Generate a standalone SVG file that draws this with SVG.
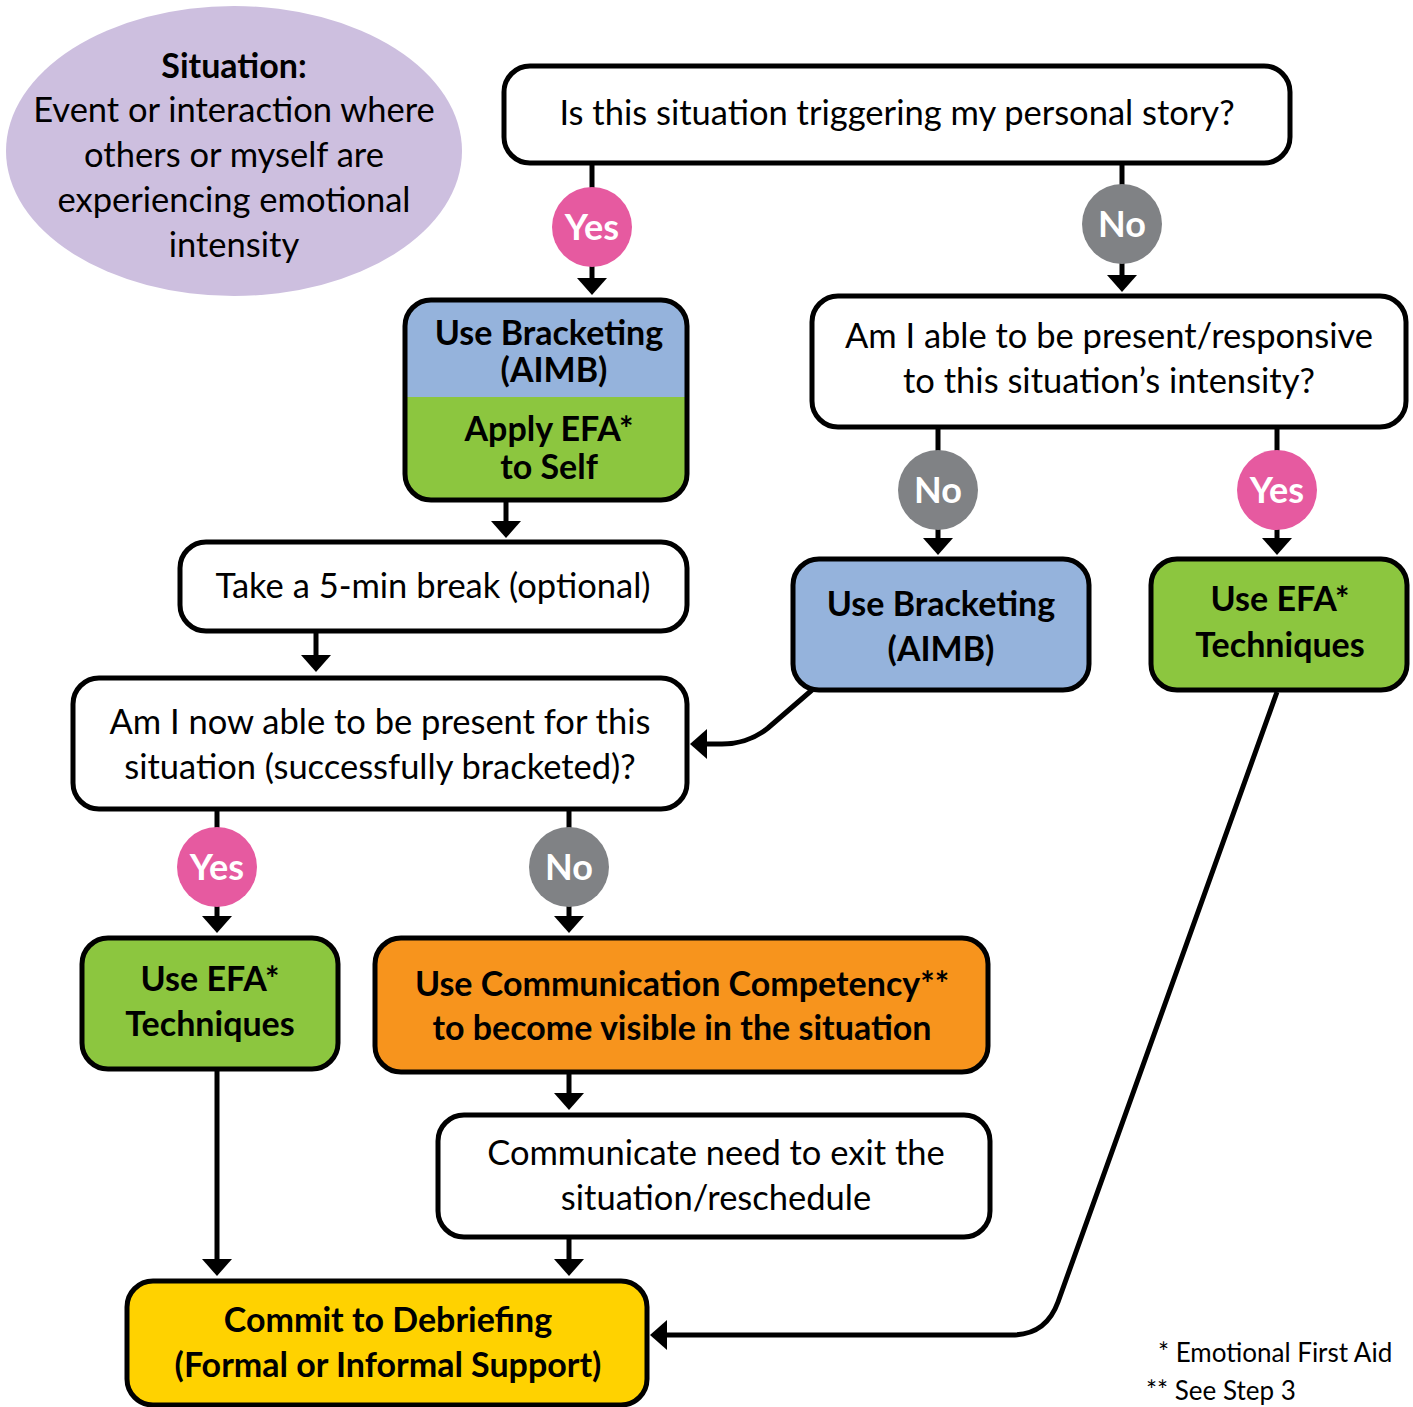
<svg xmlns="http://www.w3.org/2000/svg" width="1413" height="1407" viewBox="0 0 1413 1407">
<defs>
<style>
.box{stroke:#000;stroke-width:5}
.t{font-family:Lato,"Open Sans","Liberation Sans",sans-serif;font-size:34.5px;fill:#000;text-anchor:middle}
.b{font-weight:bold;font-size:34px}
.c{font-family:Lato,"Open Sans","Liberation Sans",sans-serif;font-size:36px;font-weight:bold;fill:#fff;text-anchor:middle}
.ln{stroke:#000;stroke-width:5;fill:none}
.yes{fill:#e65aa0}
.no{fill:#808285}
.fn{font-family:Lato,"Open Sans","Liberation Sans",sans-serif;font-size:26px;fill:#000}
</style>
<marker id="ah" markerUnits="userSpaceOnUse" viewBox="0 0 17 30" markerWidth="17" markerHeight="30" refX="7" refY="15" orient="auto">
<path d="M0,0 L17,15 L0,30 z" fill="#000"/>
</marker>
</defs>
<rect width="1413" height="1407" fill="#fff"/>

<g id="connectors">
<line class="ln" x1="592" y1="163" x2="592" y2="285" marker-end="url(#ah)"/>
<line class="ln" x1="1122" y1="163" x2="1122" y2="282" marker-end="url(#ah)"/>
<line class="ln" x1="506" y1="500" x2="506" y2="528" marker-end="url(#ah)"/>
<line class="ln" x1="316" y1="631" x2="316" y2="662" marker-end="url(#ah)"/>
<line class="ln" x1="938" y1="427" x2="938" y2="545" marker-end="url(#ah)"/>
<line class="ln" x1="1277" y1="427" x2="1277" y2="545" marker-end="url(#ah)"/>
<path class="ln" d="M812,690 L768,728 Q748,744 722,744 L700,744" marker-end="url(#ah)"/>
<line class="ln" x1="217" y1="809" x2="217" y2="923" marker-end="url(#ah)"/>
<line class="ln" x1="569" y1="809" x2="569" y2="923" marker-end="url(#ah)"/>
<line class="ln" x1="569" y1="1072" x2="569" y2="1100" marker-end="url(#ah)"/>
<line class="ln" x1="217" y1="1069" x2="217" y2="1266" marker-end="url(#ah)"/>
<line class="ln" x1="569" y1="1237" x2="569" y2="1266" marker-end="url(#ah)"/>
<path class="ln" d="M1277,692 L1058,1302 Q1046,1335 1012,1335 L660,1335" marker-end="url(#ah)"/>
</g>

<g id="situation">
<ellipse cx="234" cy="151" rx="228" ry="145" fill="#cdbfdf"/>
<text class="t b" x="234" y="78">Situation:</text>
<text class="t" x="234" y="122">Event or interaction where</text>
<text class="t" x="234" y="167">others or myself are</text>
<text class="t" x="234" y="212">experiencing emotional</text>
<text class="t" x="234" y="257">intensity</text>
</g>

<g id="q1">
<rect class="box" x="504" y="66" width="786" height="97" rx="26" fill="#fff"/>
<text class="t" x="897" y="125">Is this situation triggering my personal story?</text>
</g>

<g id="yes1"><circle class="yes" cx="592" cy="227" r="40"/><text class="c" x="592" y="240">Yes</text></g>
<g id="no1"><circle class="no" cx="1122" cy="224" r="40"/><text class="c" x="1122" y="237">No</text></g>

<g id="bracket-efa-self">
<clipPath id="cp1"><rect x="405" y="300" width="282" height="200" rx="26"/></clipPath>
<g clip-path="url(#cp1)">
<rect x="405" y="300" width="282" height="97" fill="#95b3dc"/>
<rect x="405" y="397" width="282" height="103" fill="#8cc63f"/>
</g>
<rect class="box" x="405" y="300" width="282" height="200" rx="26" fill="none"/>
<text class="t b" x="549" y="345">Use Bracketing</text>
<text class="t b" x="554" y="382">(AIMB)</text>
<text class="t b" x="549" y="441">Apply EFA*</text>
<text class="t b" x="549" y="479">to Self</text>
</g>

<g id="q2">
<rect class="box" x="812" y="296" width="594" height="131" rx="26" fill="#fff"/>
<text class="t" x="1109" y="348">Am I able to be present/responsive</text>
<text class="t" x="1109" y="393">to this situation’s intensity?</text>
</g>

<g id="no2"><circle class="no" cx="938" cy="490" r="40"/><text class="c" x="938" y="503">No</text></g>
<g id="yes2"><circle class="yes" cx="1277" cy="490" r="40"/><text class="c" x="1277" y="503">Yes</text></g>

<g id="break">
<rect class="box" x="180" y="542" width="507" height="89" rx="26" fill="#fff"/>
<text class="t" x="433" y="598">Take a 5-min break (optional)</text>
</g>

<g id="bracket2">
<rect class="box" x="793" y="559" width="296" height="131" rx="26" fill="#95b3dc"/>
<text class="t b" x="941" y="616">Use Bracketing</text>
<text class="t b" x="941" y="661">(AIMB)</text>
</g>

<g id="efa1">
<rect class="box" x="1151" y="559" width="256" height="131" rx="26" fill="#8cc63f"/>
<text class="t b" x="1280" y="611">Use EFA*</text>
<text class="t b" x="1280" y="657">Techniques</text>
</g>

<g id="q3">
<rect class="box" x="73" y="678" width="614" height="131" rx="26" fill="#fff"/>
<text class="t" x="380" y="734">Am I now able to be present for this</text>
<text class="t" x="380" y="779">situation (successfully bracketed)?</text>
</g>

<g id="yes3"><circle class="yes" cx="217" cy="867" r="40"/><text class="c" x="217" y="880">Yes</text></g>
<g id="no3"><circle class="no" cx="569" cy="867" r="40"/><text class="c" x="569" y="880">No</text></g>

<g id="efa2">
<rect class="box" x="82" y="938" width="256" height="131" rx="26" fill="#8cc63f"/>
<text class="t b" x="210" y="991">Use EFA*</text>
<text class="t b" x="210" y="1036">Techniques</text>
</g>

<g id="comm">
<rect class="box" x="375" y="938" width="613" height="134" rx="26" fill="#f7941d"/>
<text class="t b" x="682" y="996">Use Communication Competency**</text>
<text class="t b" x="682" y="1040">to become visible in the situation</text>
</g>

<g id="exit">
<rect class="box" x="438" y="1115" width="552" height="122" rx="26" fill="#fff"/>
<text class="t" x="716" y="1165">Communicate need to exit the</text>
<text class="t" x="716" y="1210">situation/reschedule</text>
</g>

<g id="debrief">
<rect class="box" x="127" y="1281" width="520" height="124" rx="26" fill="#ffd200"/>
<text class="t b" x="388" y="1332">Commit to Debriefing</text>
<text class="t b" x="388" y="1377">(Formal or Informal Support)</text>
</g>

<g id="footnotes">
<text class="fn" x="1158" y="1362">* Emotional First Aid</text>
<text class="fn" x="1146" y="1400">** See Step 3</text>
</g>
</svg>
